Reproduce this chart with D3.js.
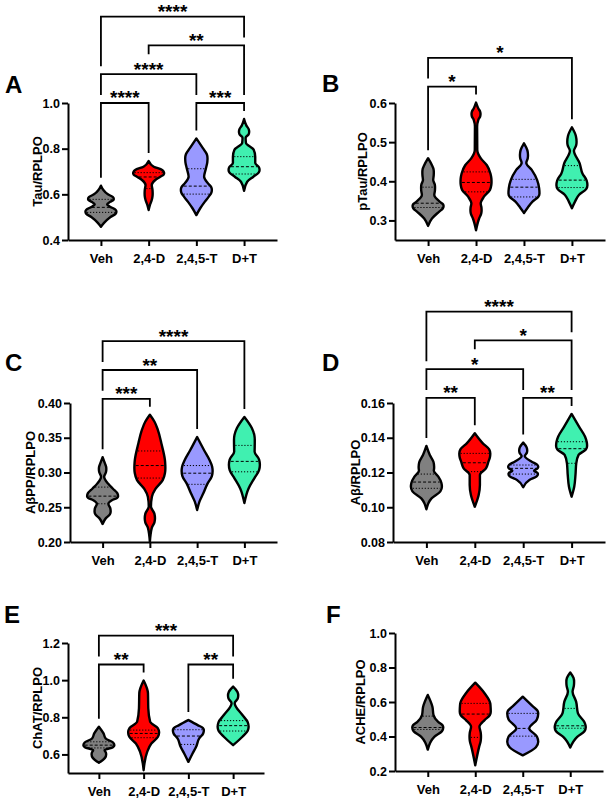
<!DOCTYPE html>
<html><head><meta charset="utf-8">
<script src="https://cdn.jsdelivr.net/npm/d3@7"></script>
<style>
body{margin:0;background:#fff;}
svg text{font-family:"Liberation Sans",Arial,sans-serif;font-weight:bold;fill:#000;}
</style></head><body>
<svg id="chart" width="606" height="798"></svg>
<script>
// ---------- data ----------
const categories = ["Veh", "2,4-D", "2,4,5-T", "D+T"];
const groupColors = ["#808080", "#ff0000", "#9999ff", "#40f0b0"];

// Violin profiles: [value, relative half-width]
const tauTicks = [0.4, 0.6, 0.8, 1.0];
const tauProfiles = [
  [[0.458,0],[0.475,0.2],[0.50,0.6],[0.524,1.0],[0.545,0.62],[0.556,0.4],[0.567,0.6],[0.58,0.83],[0.60,0.45],[0.62,0.15],[0.638,0]],
  [[0.531,0],[0.553,0.08],[0.575,0.2],[0.604,0.26],[0.641,0.2],[0.663,0.43],[0.677,0.75],[0.692,1.0],[0.707,0.87],[0.721,0.33],[0.746,0]],
  [[0.509,0],[0.539,0.25],[0.568,0.55],[0.590,0.8],[0.619,1.0],[0.648,0.75],[0.677,0.5],[0.714,0.62],[0.758,0.72],[0.802,0.42],[0.845,0]],
  [[0.615,0],[0.655,0.2],[0.677,0.6],[0.707,1.0],[0.737,0.72],[0.765,0.72],[0.795,0.62],[0.825,0.12],[0.848,0.1],[0.874,0.33],[0.901,0.15],[0.930,0]]
];
const tauQuartiles = [[0.521,0.543,0.578],[0.625,0.676,0.695],[0.601,0.636,0.712],[0.689,0.721,0.765]];
const tauComparisons = [[0,1,0,"****"],[2,3,0,"***"],[0,2,1,"****"],[1,3,2,"**"],[0,3,3,"****"]];

const ptauTicks = [0.3, 0.4, 0.5, 0.6];
const ptauProfiles = [
  [[0.286,0],[0.305,0.25],[0.322,0.7],[0.337,1.0],[0.348,0.75],[0.365,0.4],[0.384,0.45],[0.403,0.33],[0.424,0.37],[0.441,0.25],[0.459,0]],
  [[0.275,0],[0.305,0.2],[0.326,0.36],[0.343,0.3],[0.360,0.5],[0.378,0.9],[0.399,1.0],[0.420,0.93],[0.441,0.7],[0.459,0.3],[0.480,0.08],[0.539,0.07],[0.557,0.15],[0.572,0.29],[0.586,0.15],[0.601,0]],
  [[0.319,0],[0.333,0.25],[0.348,0.55],[0.369,1.0],[0.403,0.85],[0.429,0.5],[0.447,0.15],[0.467,0.26],[0.497,0]],
  [[0.331,0],[0.348,0.2],[0.365,0.45],[0.390,1.0],[0.420,0.68],[0.446,0.5],[0.478,0.13],[0.501,0.3],[0.538,0]]
];
const ptauQuartiles = [[0.333,0.344,0.385],[0.373,0.397,0.424],[0.360,0.385,0.405],[0.384,0.403,0.440]];
const ptauComparisons = [[0,1,0,"*"],[0,3,1,"*"]];

const abppTicks = [0.20, 0.25, 0.30, 0.35, 0.40];
const abppProfiles = [
  [[0.226,0],[0.234,0.2],[0.244,0.52],[0.255,0.37],[0.260,0.6],[0.266,1.0],[0.277,0.65],[0.284,0.35],[0.294,0.1],[0.305,0.24],[0.313,0.15],[0.322,0]],
  [[0.200,0],[0.220,0.12],[0.234,0.33],[0.251,0.07],[0.265,0.13],[0.276,0.35],[0.289,0.83],[0.306,1.0],[0.318,0.97],[0.342,0.74],[0.361,0.52],[0.373,0.3],[0.383,0]],
  [[0.246,0],[0.258,0.15],[0.270,0.4],[0.284,0.67],[0.302,1.0],[0.318,0.8],[0.332,0.45],[0.351,0]],
  [[0.256,0],[0.277,0.27],[0.292,0.65],[0.311,1.0],[0.330,0.66],[0.347,0.67],[0.364,0.48],[0.380,0]]
];
const abppQuartiles = [[0.255,0.266,0.279],[0.292,0.310,0.331],[0.283,0.299,0.310],[0.301,0.316,0.339]];
const abppComparisons = [[0,1,0,"***"],[0,2,1,"**"],[0,3,2,"****"]];

const abTicks = [0.08, 0.10, 0.12, 0.14, 0.16];
const abProfiles = [
  [[0.0988,0],[0.1051,0.33],[0.1118,1.0],[0.1176,0.77],[0.1210,0.48],[0.1233,0.5],[0.1301,0.22],[0.1353,0]],
  [[0.1003,0],[0.1070,0.25],[0.1128,0.33],[0.1186,0.33],[0.1224,0.72],[0.1262,0.88],[0.1310,1.0],[0.1368,0.52],[0.1426,0]],
  [[0.1115,0],[0.1157,0.4],[0.1191,0.95],[0.1210,0.7],[0.1233,0.97],[0.1262,0.55],[0.1295,0.1],[0.1326,0.26],[0.1372,0]],
  [[0.1061,0],[0.1118,0.17],[0.1186,0.25],[0.1253,0.3],[0.1301,0.45],[0.1353,1.0],[0.1406,0.87],[0.1464,0.48],[0.1537,0]]
];
const abQuartiles = [[0.1109,0.1145,0.1191],[0.1205,0.1256,0.1310],[0.1191,0.1224,0.1243],[0.1253,0.1337,0.1377]];
const abComparisons = [[0,1,0,"**"],[2,3,0,"**"],[0,2,1,"*"],[1,3,2,"*"],[0,3,3,"****"]];

const chatTicks = [0.6, 0.8, 1.0, 1.2];
const chatProfiles = [
  [[0.555,0],[0.600,0.47],[0.623,0.37],[0.650,1.0],[0.686,0.44],[0.713,0.3],[0.749,0]],
  [[0.515,0],[0.614,0.23],[0.659,0.5],[0.719,1.0],[0.776,0.42],[0.849,0.3],[0.930,0.28],[0.998,0]],
  [[0.560,0],[0.605,0.27],[0.641,0.5],[0.686,0.7],[0.731,1.0],[0.758,0.6],[0.785,0]],
  [[0.650,0],[0.695,0.6],[0.749,1.0],[0.812,0.6],[0.876,0.1],[0.917,0.33],[0.965,0]]
];
const chatQuartiles = [[0.635,0.650,0.668],[0.690,0.713,0.731],[0.654,0.699,0.733],[0.726,0.755,0.782]];
const chatComparisons = [[0,1,0,"**"],[2,3,0,"**"],[0,3,1,"***"]];

const acheTicks = [0.2, 0.4, 0.6, 0.8, 1.0];
const acheProfiles = [
  [[0.324,0],[0.398,0.42],[0.452,1.0],[0.485,0.67],[0.524,0.37],[0.573,0.3],[0.641,0]],
  [[0.233,0],[0.340,0.25],[0.398,0.37],[0.456,0.27],[0.495,0.6],[0.543,1.0],[0.592,0.97],[0.651,0.6],[0.712,0]],
  [[0.291,0],[0.369,1.0],[0.447,0.42],[0.534,1.0],[0.573,0.67],[0.631,0]],
  [[0.336,0],[0.398,0.45],[0.452,1.0],[0.485,0.9],[0.534,0.5],[0.602,0.38],[0.660,0.15],[0.718,0.25],[0.771,0]]
];
const acheQuartiles = [[0.441,0.452,0.518],[0.395,0.530,0.592],[0.402,0.447,0.534],[0.448,0.462,0.563]];
const acheComparisons = [];

// ---------- layout ----------
const panels = [
  {letter:"A", title:"Tau/RPLPO", domain:[0.4,1.0], ticks:tauTicks, fmt:".1f", profiles:tauProfiles, quartiles:tauQuartiles, comparisons:tauComparisons,
   xr:[68,277], yr:[240,103], letterPos:[5,93], titleX:41.5},
  {letter:"B", title:"pTau/RPLPO", domain:[0.25,0.6], ticks:ptauTicks, fmt:".1f", profiles:ptauProfiles, quartiles:ptauQuartiles, comparisons:ptauComparisons,
   xr:[395,605], yr:[240,103], letterPos:[322,92], titleX:366.5},
  {letter:"C", title:"A\u03b2PP/RPLPO", domain:[0.20,0.40], ticks:abppTicks, fmt:".2f", profiles:abppProfiles, quartiles:abppQuartiles, comparisons:abppComparisons,
   xr:[70,277], yr:[542,403], letterPos:[5,371], titleX:35},
  {letter:"D", title:"A\u03b2/RPLPO", domain:[0.08,0.16], ticks:abTicks, fmt:".2f", profiles:abProfiles, quartiles:abQuartiles, comparisons:abComparisons,
   xr:[393,605], yr:[542,403], letterPos:[322,371], titleX:360},
  {letter:"E", title:"ChAT/RPLPO", domain:[0.5,1.2], ticks:chatTicks, fmt:".1f", profiles:chatProfiles, quartiles:chatQuartiles, comparisons:chatComparisons,
   xr:[68,264], yr:[773,643], letterPos:[4,623], titleX:41.5},
  {letter:"F", title:"ACHE/RPLPO", domain:[0.2,1.0], ticks:acheTicks, fmt:".1f", profiles:acheProfiles, quartiles:acheQuartiles, comparisons:acheComparisons,
   xr:[395,603], yr:[771,633], letterPos:[326,623], titleX:365}
];

const svg = d3.select("#chart");
const HW = 15.5;        // max half width of violin (px)
const LEVEL_STEP = 28.8;

function interpWidth(prof, v) {
  const s = prof.slice().sort((a,b)=>a[0]-b[0]);
  if (v <= s[0][0] || v >= s[s.length-1][0]) return 0;
  for (let i = 1; i < s.length; i++) {
    if (v <= s[i][0]) {
      const t = (v - s[i-1][0]) / (s[i][0] - s[i-1][0]);
      return s[i-1][1] + t * (s[i][1] - s[i-1][1]);
    }
  }
  return 0;
}

// round off the bulges: add shoulder knots around each local maximum
function roundedOutline(prof) {
  const s = prof.slice().sort((a,b)=>a[0]-b[0]);
  const out = [];
  for (let i = 0; i < s.length; i++) {
    const cur = s[i];
    const isMax = i > 0 && i < s.length - 1 && cur[1] > s[i-1][1] && cur[1] > s[i+1][1];
    if (isMax) {
      const lo = s[i-1], hi = s[i+1];
      out.push([cur[0] - 0.4*(cur[0]-lo[0]), cur[1] - 0.15*(cur[1]-lo[1])]);
      out.push(cur);
      out.push([cur[0] + 0.4*(hi[0]-cur[0]), cur[1] - 0.15*(cur[1]-hi[1])]);
    } else out.push(cur);
  }
  return out;
}

panels.forEach(p => {
  const g = svg.append("g");
  const x = d3.scalePoint().domain(categories).range(p.xr).padding(0.69);
  const y = d3.scaleLinear().domain(p.domain).range(p.yr);

  // axes
  const ya = g.append("g").attr("transform", `translate(${p.xr[0]},0)`)
    .call(d3.axisLeft(y).tickValues(p.ticks).tickFormat(d3.format(p.fmt)).tickSize(6).tickPadding(2).tickSizeOuter(0));
  const xa = g.append("g").attr("transform", `translate(0,${p.yr[0]})`)
    .call(d3.axisBottom(x).tickSize(6).tickPadding(8).tickSizeOuter(0));
  [ya, xa].forEach(a => {
    a.attr("font-family", null).attr("font-size", null);
    a.selectAll("path,line").attr("stroke", "#000").attr("stroke-width", 2);
  });
  ya.selectAll("text").style("font-size", "12.5px").attr("fill", "#000");
  xa.selectAll("text").style("font-size", "13px").attr("fill", "#000");

  // violins
  p.profiles.forEach((prof, i) => {
    const cx = x(categories[i]);
    const pts = roundedOutline(prof).sort((a,b)=>b[0]-a[0]);
    const area = d3.area()
      .y(d => y(d[0]))
      .x0(d => cx - HW*d[1])
      .x1(d => cx + HW*d[1])
      .curve(d3.curveMonotoneY);
    g.append("path").attr("d", area(pts))
      .attr("fill", groupColors[i]).attr("stroke", "#000")
      .attr("stroke-width", 2.4).attr("stroke-linejoin", "round");
    p.quartiles[i].forEach((q, k) => {
      const hw = Math.max(0, HW*interpWidth(roundedOutline(prof), q) - 1.3);
      if (hw <= 0.5) return;
      g.append("line")
        .attr("x1", cx - hw).attr("x2", cx + hw)
        .attr("y1", y(q)).attr("y2", y(q))
        .attr("stroke", "#000").attr("stroke-width", 1)
        .attr("stroke-dasharray", k === 1 ? "3,2" : "1.2,1.8");
    });
  });

  // significance brackets
  const tops = p.profiles.map(pr => d3.max(pr, d => d[0]));
  const base = y(d3.max(tops)) - 16;
  const levelY = l => base - l * LEVEL_STEP;
  p.comparisons.forEach(([a, b, lev, label]) => {
    const yy = levelY(lev);
    const legEnd = gi => {
      let best = null;
      p.comparisons.forEach(([a2, b2, l2]) => {
        if (l2 < lev && gi >= a2 && gi <= b2 && (best === null || l2 > best.l))
          best = {l: l2, end: (gi === a2 || gi === b2)};
      });
      if (best) return levelY(best.l) - (best.end ? 8 : 20);
      return y(tops[gi]) - 8;
    };
    const xa_ = x(categories[a]), xb_ = x(categories[b]);
    g.append("path")
      .attr("d", `M${xa_},${legEnd(a)}V${yy}H${xb_}V${legEnd(b)}`)
      .attr("fill", "none").attr("stroke", "#000").attr("stroke-width", 1.8);
    g.append("text").attr("x", (xa_ + xb_) / 2).attr("y", yy + 1.5)
      .attr("text-anchor", "middle").style("font-size", "19px").text(label);
  });

  // y title
  const cy = (p.yr[0] + p.yr[1]) / 2;
  g.append("text").attr("transform", `translate(${p.titleX},${cy}) rotate(-90)`)
    .attr("text-anchor", "middle").style("font-size", "13px").text(p.title);

  // panel letter
  g.append("text").attr("x", p.letterPos[0]).attr("y", p.letterPos[1])
    .style("font-size", "24px").text(p.letter);
});
</script>
</body></html>
